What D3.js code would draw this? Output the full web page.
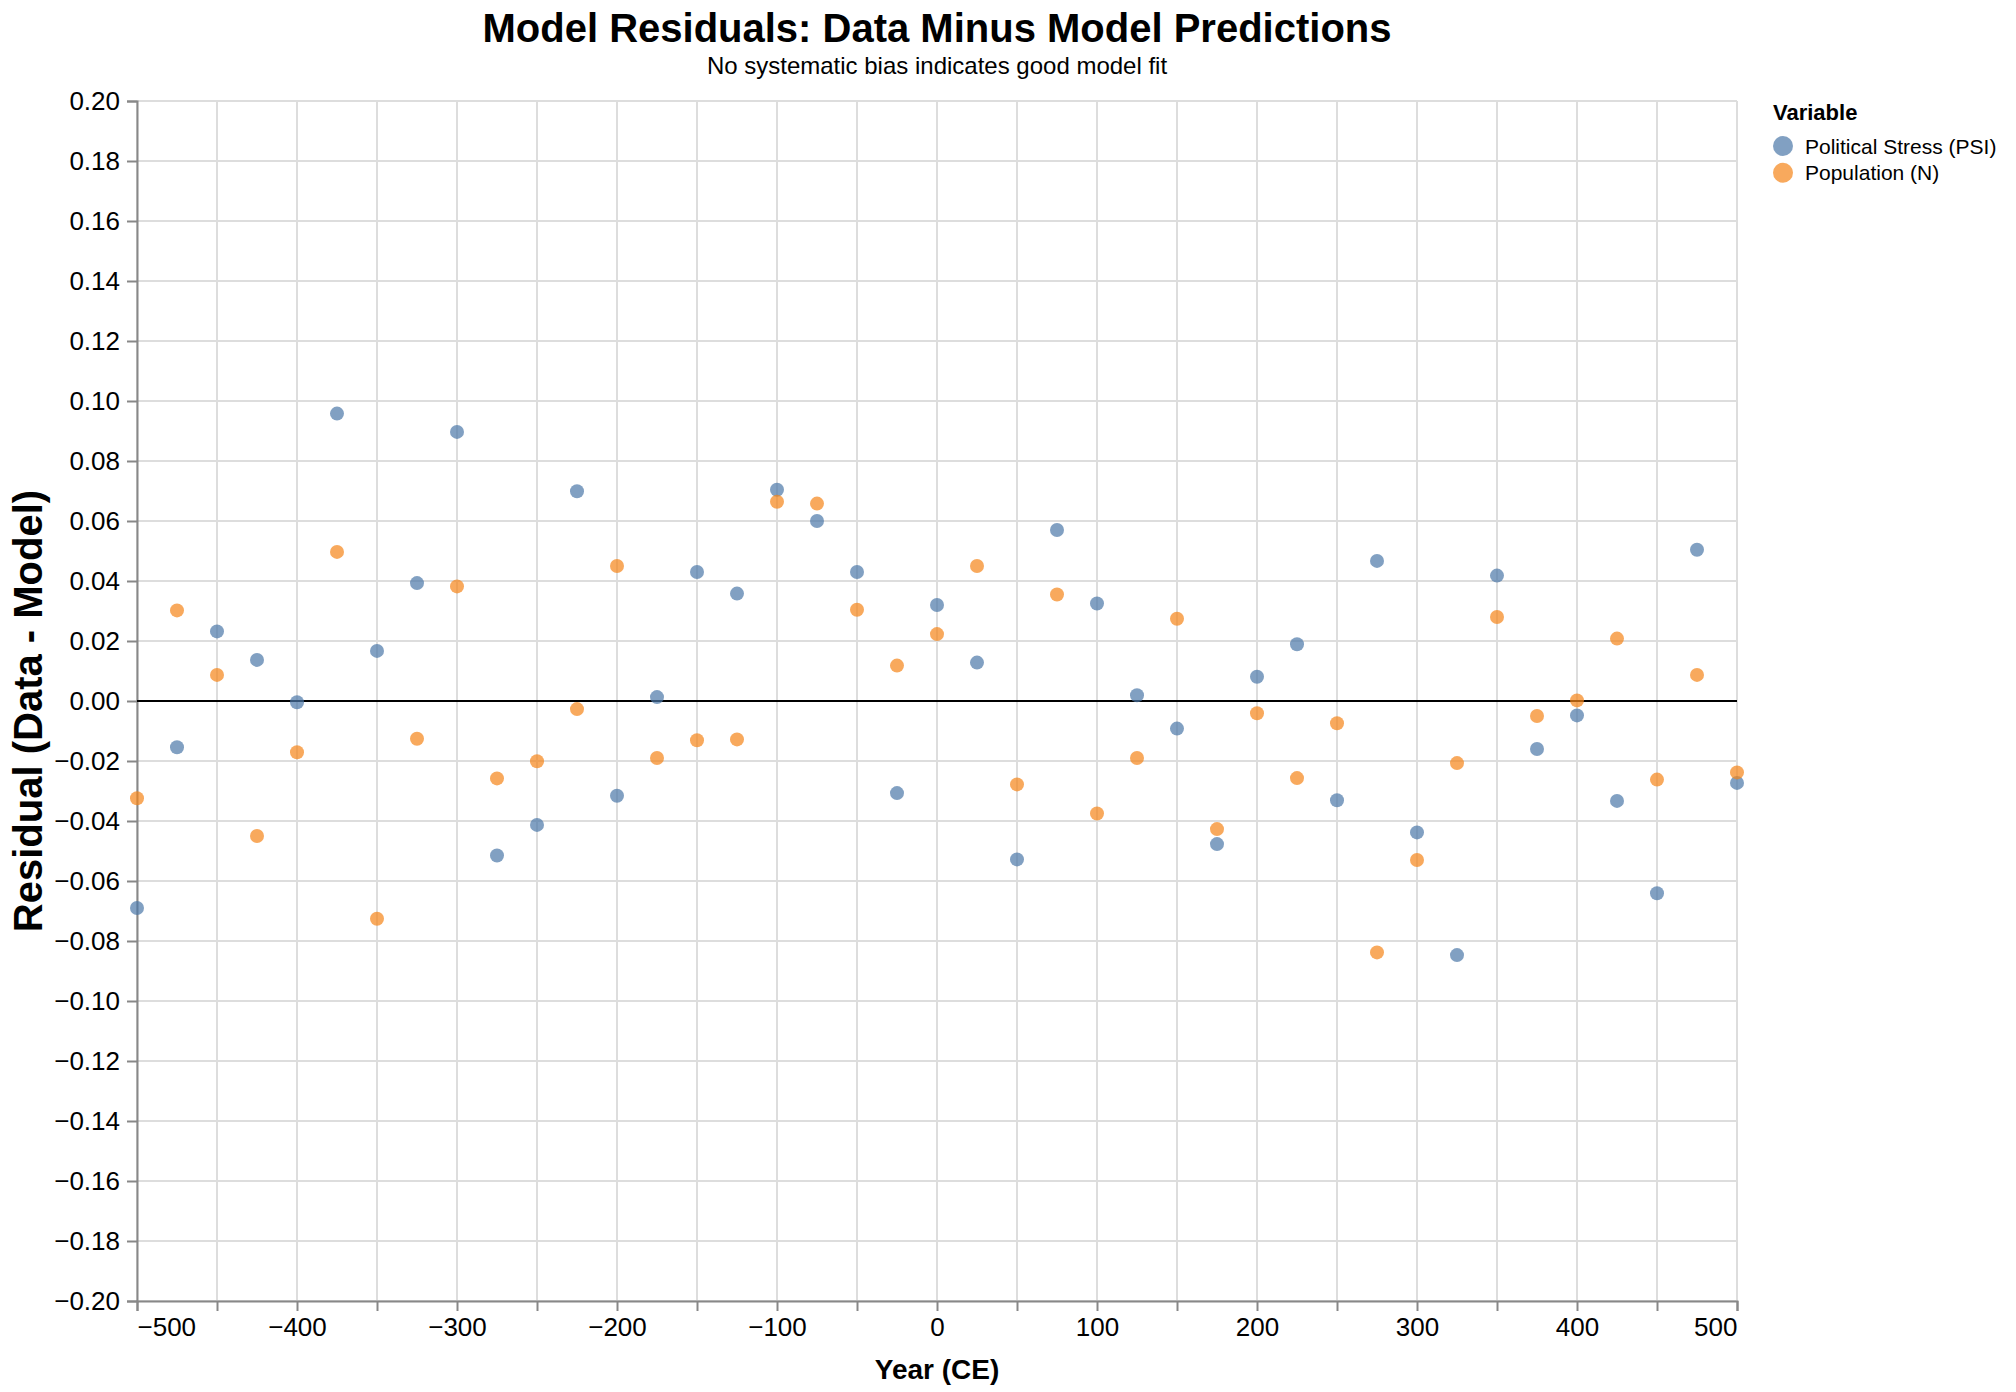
<!DOCTYPE html>
<html>
<head>
<meta charset="utf-8">
<script src="https://cdn.jsdelivr.net/npm/d3@7"></script>
<style>
  html, body { margin: 0; padding: 0; background: #fff; }
  svg { display: block; font-family: "Liberation Sans", Arial, Helvetica, sans-serif; }
</style>
</head>
<body>
<div id="chart"></div>
<script>
// Residuals (data - model), one point every 25 years
const years = [
  -500, -475, -450, -425, -400, -375, -350, -325, -300, -275, -250,
  -225, -200, -175, -150, -125, -100, -75, -50, -25, 0,
  25, 50, 75, 100, 125, 150, 175, 200, 225, 250,
  275, 300, 325, 350, 375, 400, 425, 450, 475, 500
];

const psiResiduals = [
  -0.0690, -0.0154, 0.0232, 0.0137, -0.0004, 0.0958, 0.0167, 0.0393, 0.0897, -0.0515, -0.0413,
  0.0699, -0.0316, 0.0013, 0.0430, 0.0358, 0.0704, 0.0600, 0.0430, -0.0307, 0.0320,
  0.0128, -0.0528, 0.0570, 0.0325, 0.0019, -0.0092, -0.0477, 0.0081, 0.0189, -0.0331,
  0.0467, -0.0438, -0.0847, 0.0418, -0.0160, -0.0048, -0.0333, -0.0641, 0.0504, -0.0273
];

const popResiduals = [
  -0.0324, 0.0302, 0.0087, -0.0450, -0.0171, 0.0497, -0.0726, -0.0126, 0.0382, -0.0258, -0.0201,
  -0.0027, 0.0450, -0.0190, -0.0131, -0.0128, 0.0664, 0.0658, 0.0304, 0.0118, 0.0223,
  0.0450, -0.0278, 0.0355, -0.0375, -0.0190, 0.0274, -0.0427, -0.0041, -0.0257, -0.0074,
  -0.0838, -0.0530, -0.0207, 0.0280, -0.0050, 0.0002, 0.0208, -0.0262, 0.0087, -0.0238
];

const seriesNames = ['Political Stress (PSI)', 'Population (N)'];
const seriesColors = ['#4c78a8', '#f58518'];

const xDomain = [-500, 500];
const yDomain = [-0.2, 0.2];

const W = 2016;
const H = 1392;
const LEFT = 137;
const TOP = 101;
const PW = 1600;
const PH = 1200;
const FONT_AXIS = 26;

const svg = d3
  .select('#chart')
  .append('svg')
  .attr('width', W)
  .attr('height', H);

const x = d3.scaleLinear().domain(xDomain).range([LEFT, LEFT + PW]);
const y = d3.scaleLinear().domain(yDomain).range([TOP + PH, TOP]);
const color = d3.scaleOrdinal().domain(seriesNames).range(seriesColors);

const xTicks = x.ticks(20);
const yTicks = y.ticks(20);

// Grid
const grid = svg.append('g').attr('stroke', '#ddd').attr('stroke-width', 2);
grid.selectAll('line.gx')
  .data(xTicks)
  .join('line')
  .attr('class', 'gx')
  .attr('x1', d => x(d)).attr('x2', d => x(d))
  .attr('y1', TOP).attr('y2', TOP + PH);
grid.selectAll('line.gy')
  .data(yTicks)
  .join('line')
  .attr('class', 'gy')
  .attr('x1', LEFT).attr('x2', LEFT + PW)
  .attr('y1', d => y(d)).attr('y2', d => y(d));

// Axes
const fmtX = d3.format('d');
const xAxis = svg
  .append('g')
  .attr('transform', `translate(0, ${TOP + PH})`)
  .call(
    d3.axisBottom(x)
      .tickValues(xTicks)
      .tickSize(10)
      .tickPadding(7)
      .tickFormat(d => (d % 100 === 0 ? fmtX(d) : ''))
  );

const yAxis = svg
  .append('g')
  .attr('transform', `translate(${LEFT}, 0)`)
  .call(
    d3.axisLeft(y)
      .tickValues(yTicks)
      .tickSize(10)
      .tickPadding(7)
      .tickFormat(d3.format('.2f'))
  );

[xAxis, yAxis].forEach(g => {
  g.attr('font-family', null).attr('font-size', null);
  g.select('.domain').attr('stroke', '#888').attr('stroke-width', 2);
  g.selectAll('.tick line').attr('stroke', '#888').attr('stroke-width', 2);
  g.selectAll('.tick text').attr('fill', '#000').attr('font-size', FONT_AXIS);
});

// flush first and last x labels to the plot edges
xAxis.selectAll('.tick text')
  .filter(d => d === xDomain[0])
  .attr('text-anchor', 'start');
xAxis.selectAll('.tick text')
  .filter(d => d === xDomain[1])
  .attr('text-anchor', 'end');

// Zero reference line
svg.append('line')
  .attr('x1', LEFT).attr('x2', LEFT + PW)
  .attr('y1', y(0)).attr('y2', y(0))
  .attr('stroke', '#000')
  .attr('stroke-width', 2);

// Points
const points = [];
years.forEach((yr, i) => {
  points.push({ year: yr, value: psiResiduals[i], series: seriesNames[0] });
  points.push({ year: yr, value: popResiduals[i], series: seriesNames[1] });
});

svg.append('g')
  .selectAll('circle')
  .data(points)
  .join('circle')
  .attr('cx', d => x(d.year))
  .attr('cy', d => y(d.value))
  .attr('r', 7)
  .attr('fill', d => color(d.series))
  .attr('fill-opacity', 0.7);

// Titles
svg.append('text')
  .attr('x', LEFT + PW / 2)
  .attr('y', 42)
  .attr('text-anchor', 'middle')
  .attr('font-size', 40)
  .attr('font-weight', 'bold')
  .text('Model Residuals: Data Minus Model Predictions');

svg.append('text')
  .attr('x', LEFT + PW / 2)
  .attr('y', 74)
  .attr('text-anchor', 'middle')
  .attr('font-size', 24)
  .text('No systematic bias indicates good model fit');

svg.append('text')
  .attr('x', LEFT + PW / 2)
  .attr('y', 1379)
  .attr('text-anchor', 'middle')
  .attr('font-size', 28)
  .attr('font-weight', 'bold')
  .text('Year (CE)');

svg.append('text')
  .attr('transform', `translate(42, ${TOP + PH / 2 + 10}) rotate(-90)`)
  .attr('text-anchor', 'middle')
  .attr('font-size', 40)
  .attr('font-weight', 'bold')
  .text('Residual (Data - Model)');

// Legend
const legend = svg.append('g').attr('transform', 'translate(1773, 0)');
legend.append('text')
  .attr('x', 0)
  .attr('y', 120)
  .attr('font-size', 22)
  .attr('font-weight', 'bold')
  .text('Variable');

const items = legend.selectAll('g.item')
  .data(seriesNames)
  .join('g')
  .attr('class', 'item')
  .attr('transform', (d, i) => `translate(0, ${146 + i * 26.7})`);

items.append('circle')
  .attr('cx', 10)
  .attr('cy', 0)
  .attr('r', 10)
  .attr('fill', d => color(d))
  .attr('fill-opacity', 0.7);

items.append('text')
  .attr('x', 32)
  .attr('y', 0)
  .attr('dy', '0.36em')
  .attr('font-size', 21)
  .text(d => d);
</script>
</body>
</html>
